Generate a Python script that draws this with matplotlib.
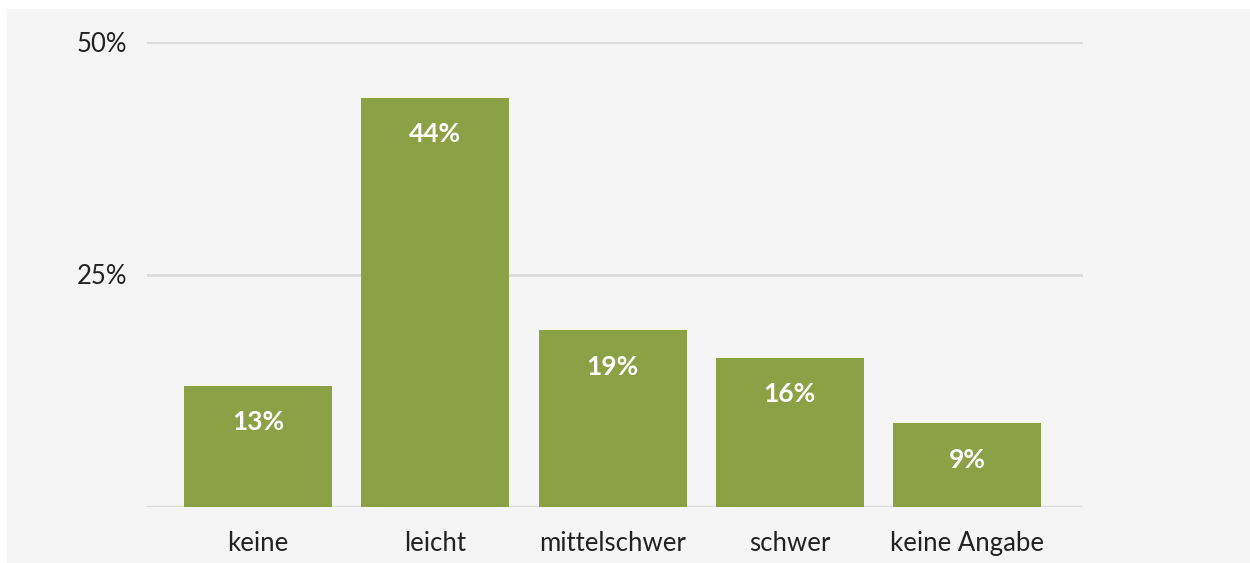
import matplotlib.pyplot as plt

categories = ["keine", "leicht", "mittelschwer", "schwer", "keine Angabe"]
values = [13, 44, 19, 16, 9]
yticks = [25, 50]
ytick_labels = ["25%", "50%"]

plt.rcParams['font.family'] = ['Lato', 'DejaVu Sans']

fig = plt.figure(figsize=(12.5, 5.63), dpi=100)
fig.patch.set_facecolor("white")
# gray panel, small white margin on top and left
bg = fig.add_axes([7 / 1250, 0, 1 - 7 / 1250, 1 - 9 / 563])
bg.set_facecolor("#f5f5f5")
bg.set_xticks([])
bg.set_yticks([])
for s in bg.spines.values():
    s.set_visible(False)

ax = fig.add_axes([147 / 1250, 1 - 507 / 563, (1083 - 147) / 1250, 465 / 563])
ax.patch.set_alpha(0)
x = range(len(categories))
bars = ax.bar(x, values, width=0.835, color="#8ca145", zorder=3)
for b, v in zip(bars, values):
    ax.text(b.get_x() + b.get_width() / 2, v - 3.9, f"{v}%", ha="center", va="center",
            color="white", fontsize=19, fontweight="bold", zorder=4)

ax.set_xlim(-0.627, 4.655)
ax.set_ylim(0, 50)
ax.set_yticks(yticks)
ax.set_yticklabels(ytick_labels)
ax.set_xticks(list(x))
ax.set_xticklabels(categories)
ax.grid(axis="y", color="#dcdcdc", linewidth=2, zorder=0)
ax.axhline(0, color="#dcdcdc", linewidth=2.5, zorder=2)
ax.tick_params(length=0, labelsize=18.5, colors="#222222")
ax.tick_params(axis="y", pad=14)
ax.tick_params(axis="x", pad=17)
for s in ax.spines.values():
    s.set_visible(False)

fig.savefig("out.png", dpi=100)
